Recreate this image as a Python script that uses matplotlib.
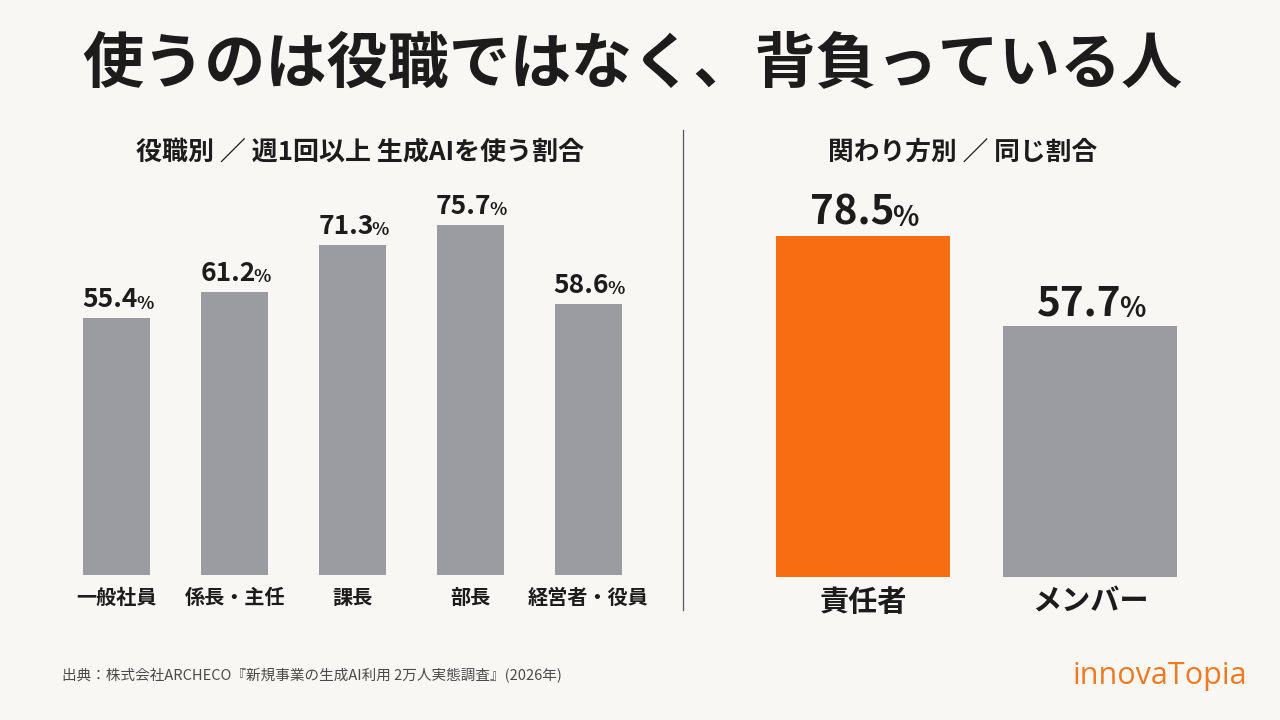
import matplotlib
matplotlib.use("Agg")
import matplotlib.pyplot as plt
from matplotlib.transforms import offset_copy

plt.rcParams['font.family'] = ['Noto Sans CJK JP', 'DejaVu Sans']

# data
title = "使うのは役職ではなく、背負っている人"
left_title = "役職別 ／ 週1回以上 生成AIを使う割合"
right_title = "関わり方別 ／ 同じ割合"
roles = ["一般社員", "係長・主任", "課長", "部長", "経営者・役員"]
role_values = [55.4, 61.2, 71.3, 75.7, 58.6]
involvement = ["責任者", "メンバー"]
involvement_values = [78.5, 57.7]
source = "出典：株式会社ARCHECO『新規事業の生成AI利用 2万人実態調査』(2026年)"
brand = "innovaTopia"

BG = "#f8f7f4"
GRAY = "#9b9ca1"
ORANGE = "#f76d12"
INK = "#1c1c1c"

W, H = 1280, 720
fig = plt.figure(figsize=(12.8, 7.2), dpi=100, facecolor=BG)


def px_axes(x0, x1, y_base, y_top):
    # pixel box (top-left origin) -> figure fraction
    return fig.add_axes([x0 / W, (H - y_base) / H, (x1 - x0) / W, (y_base - y_top) / H])


def value_label(ax, x, val, size, renderer, lift=8):
    # number + smaller % sign, centred together above the bar
    num = f"{val:.1f}"
    t1 = ax.text(x, val, num, ha="center", va="bottom", fontsize=size,
                 fontweight="bold", color=INK)
    t2 = ax.text(x, val, "%", ha="left", va="bottom", fontsize=size * 0.68,
                 fontweight="bold", color=INK)
    w1 = t1.get_window_extent(renderer).width
    w2 = t2.get_window_extent(renderer).width
    shift = w2 / 2.0 - 2
    t1.set_transform(offset_copy(ax.transData, fig=fig, x=-shift, y=lift, units="dots"))
    t2.set_transform(offset_copy(ax.transData, fig=fig, x=w1 / 2.0 - shift - 2,
                                 y=lift + size * 0.04, units="dots"))


# left panel
axl = px_axes(58, 647, 575, 112)
axl.bar(range(len(roles)), role_values, width=0.57, color=GRAY)
axl.set_xlim(-0.5, len(roles) - 0.5)
axl.set_ylim(0, 100)
axl.axis("off")

# right panel
axr = px_axes(749.5, 1203.5, 577, 142)
axr.bar(range(len(involvement)), involvement_values, width=0.77,
        color=[ORANGE, GRAY])
axr.set_xlim(-0.5, len(involvement) - 0.5)
axr.set_ylim(0, 100)
axr.axis("off")

fig.canvas.draw()
renderer = fig.canvas.get_renderer()

for i, v in enumerate(role_values):
    value_label(axl, i, v, 19, renderer, lift=5)
    axl.text(i, 0, roles[i], ha="center", va="top", fontsize=14.5, fontweight="bold",
             color=INK, transform=offset_copy(axl.transData, fig=fig, x=0, y=-12, units="dots"))

for i, v in enumerate(involvement_values):
    value_label(axr, i, v, 29, renderer, lift=2)
    axr.text(i, 0, involvement[i], ha="center", va="top", fontsize=21, fontweight="bold",
             color=INK, transform=offset_copy(axr.transData, fig=fig, x=0, y=-10, units="dots"))

# headings
fig.text(632 / W, 1 - 65 / H, title, ha="center", va="center", fontsize=44,
         fontweight="bold", color=INK)
fig.text(360 / W, 1 - 152 / H, left_title, ha="center", va="center", fontsize=18.7,
         fontweight="bold", color=INK)
fig.text(963 / W, 1 - 152 / H, right_title, ha="center", va="center", fontsize=18.5,
         fontweight="bold", color=INK)

# divider
fig.add_artist(plt.Line2D([683 / W, 683 / W], [1 - 130 / H, 1 - 610 / H],
                          color="#555555", linewidth=0.9))

# footer
fig.text(62 / W, 1 - 676 / H, source, ha="left", va="center", fontsize=10.5,
         color="#4a4a4a")
fig.text(1247 / W, 1 - 676 / H, brand, ha="right", va="center", fontsize=22,
         color="#ee7a22", family=["Open Sans", "DejaVu Sans"])

fig.savefig("out.png", dpi=100, facecolor=BG)
